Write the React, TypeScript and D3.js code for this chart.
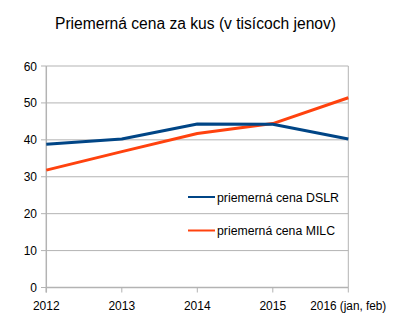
import React from "react";
import * as d3 from "d3";

const years = ["2012", "2013", "2014", "2015", "2016 (jan, feb)"];
const dslr = [38.8, 40.2, 44.3, 44.2, 40.2];
const milc = [31.8, 36.8, 41.7, 44.4, 51.4];
const yTicks = [0, 10, 20, 30, 40, 50, 60];
const seriesNames = ["priemerná cena DSLR", "priemerná cena MILC"];
const colors = ["#004586", "#ff420e"];

export default function App() {
  const W = 402, H = 325;
  const x = d3.scaleLinear().domain([0, years.length - 1]).range([46.3, 348.3]);
  const y = d3.scaleLinear().domain([0, 60]).range([287.5, 66]);
  const line = d3
    .line<number>()
    .x((_, i) => x(i))
    .y((d) => y(d));
  const font = "'Liberation Sans', Arial, sans-serif";
  return (
    <svg width={W} height={H} style={{ position: "absolute", left: 0, top: 0 }} fontFamily={font}>
      <rect width={W} height={H} fill="#fff" />
      <text x={195.5} y={28.5} fontSize={16} textAnchor="middle" fill="#000" textLength={281} lengthAdjust="spacingAndGlyphs">
        Priemerná cena za kus (v tisícoch jenov)
      </text>
      {yTicks.map((t) => (
        <g key={t}>
          <line x1={x(0)} x2={x(years.length - 1)} y1={y(t)} y2={y(t)} stroke="#b3b3b3" strokeWidth={1} />
          <line x1={41} x2={x(0)} y1={y(t)} y2={y(t)} stroke="#b3b3b3" strokeWidth={1} />
          <text x={37} y={y(t) + 4.5} fontSize={12} textAnchor="end" fill="#000">
            {t}
          </text>
        </g>
      ))}
      <line x1={x(years.length - 1)} x2={x(years.length - 1)} y1={y(60)} y2={y(0)} stroke="#b3b3b3" strokeWidth={1} />
      <line x1={x(0)} x2={x(0)} y1={y(60)} y2={y(0) + 5} stroke="#b3b3b3" strokeWidth={1.5} />
      <line x1={x(0)} x2={x(years.length - 1)} y1={y(0)} y2={y(0)} stroke="#b3b3b3" strokeWidth={1.5} />
      {years.map((yr, i) => (
        <g key={yr}>
          <line x1={x(i)} x2={x(i)} y1={y(0)} y2={y(0) + 5} stroke="#b3b3b3" strokeWidth={1} />
          <text
            x={x(i)}
            y={310}
            fontSize={12}
            textAnchor="middle"
            fill="#000"
            {...(i === years.length - 1 ? { textLength: 76, lengthAdjust: "spacingAndGlyphs" } : {})}
          >
            {yr}
          </text>
        </g>
      ))}
      <path d={line(milc) || ""} fill="none" stroke={colors[1]} strokeWidth={3} strokeLinejoin="round" />
      <path d={line(dslr) || ""} fill="none" stroke={colors[0]} strokeWidth={3} strokeLinejoin="round" />
      {seriesNames.map((n, i) => (
        <g key={n}>
          <line x1={188} x2={215} y1={197 + i * 33.5} y2={197 + i * 33.5} stroke={colors[i]} strokeWidth={2} />
          <text x={217} y={201.5 + i * 33.5} fontSize={12} fill="#000" textLength={i === 0 ? 122 : 118} lengthAdjust="spacingAndGlyphs">
            {n}
          </text>
        </g>
      ))}
    </svg>
  );
}
